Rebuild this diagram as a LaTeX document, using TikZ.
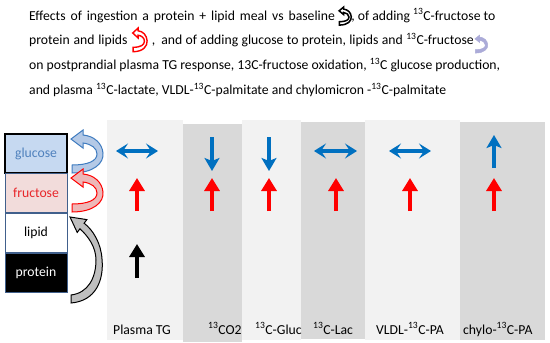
\documentclass[tikz,border=0pt]{standalone}
\usepackage{fontspec}
\setmainfont{Carlito}
\usetikzlibrary{arrows.meta}
\definecolor{lightcol}{HTML}{F2F2F2}
\definecolor{darkcol}{HTML}{D9D9D9}
\definecolor{arblue}{HTML}{0070C0}
\definecolor{arred}{HTML}{FF0000}
\definecolor{boxblue}{HTML}{C6D9F1}
\definecolor{boxpink}{HTML}{F2DCDB}
\definecolor{boxedge}{HTML}{41608C}
\definecolor{glutext}{HTML}{4F81BD}
\definecolor{frutext}{HTML}{E8262A}
\definecolor{lav}{HTML}{ABABD8}
\definecolor{cblue}{HTML}{B4C9E6}
\definecolor{cblueedge}{HTML}{3F7CC0}
\definecolor{cpink}{HTML}{EDB8B8}
\definecolor{cgray}{HTML}{BFBFBF}
\newcommand{\fsz}{\fontsize{13.7}{16}\selectfont}
\newcommand{\crvarrow}[1]{\filldraw[#1] (1,34) .. controls (23,34) and (33,24) .. (32,14) .. controls (31,4) and (23,-3) .. (12,-4) -- (12,-9) -- (0,0) -- (12,9) -- (12,4) .. controls (20,5) and (26,9) .. (26,15) .. controls (26,22) and (17,26) .. (1,26) -- cycle;}
\tikzset{
  txt/.style={inner sep=0pt, anchor=base west, font=\fsz},
  box/.style={minimum width=62pt, minimum height=39.5pt, inner sep=0pt, font=\fsz},
  redup/.style={line width=3.2pt, arred, -{Triangle[length=13pt,width=15pt]}},
  blackup/.style={line width=3.2pt, black, -{Triangle[length=13pt,width=15pt]}},
  blueone/.style={line width=3.6pt, arblue, -{Stealth[length=13pt,width=15pt,inset=3pt]}},
  bluedbl/.style={line width=3.6pt, arblue, {Stealth[length=12pt,width=15pt,inset=5pt]}-{Stealth[length=12pt,width=15pt,inset=5pt]}},
}
\begin{document}
\begin{tikzpicture}[x=1pt,y=-1pt]
\useasboundingbox[fill=white] (0,0) rectangle (550,343);
% column backgrounds
\fill[lightcol] (107,120) rectangle (183,340);
\fill[darkcol] (183,124) rectangle (242,342);
\fill[lightcol] (242,120) rectangle (301,340);
\fill[darkcol] (301,122) rectangle (365,339);
\fill[lightcol] (365,120) rectangle (460,340);
\fill[darkcol] (460,122) rectangle (545,340);
% title
\node[txt] (l1a) at (29,20) {\spaceskip=4.9pt Effects of ingestion a protein + lipid meal vs baseline};
\begin{scope}[shift={(l1a.base east)}]
  \crvarrow{fill=white, draw=black, line width=1.5pt, shift={(4,-9.2)}, xscale=0.38, yscale=0.42}
\end{scope}
\node[txt] (l1b) at ([xshift=16pt]l1a.base east) {, of adding \textsuperscript{13}C-fructose to};
\node[txt] (l2a) at (29,44.3) {\spaceskip=3.8pt protein and lipids};
\begin{scope}[shift={(l2a.base east)}]
  \crvarrow{fill=white, draw=arred, line width=1.4pt, shift={(5,-11.3)}, xscale=0.45, yscale=0.55}
\end{scope}
\node[txt] (l2b) at ([xshift=24pt]l2a.base east) {\spaceskip=3.4pt ,\hspace{6pt}and of adding glucose to protein, lipids and \textsuperscript{13}C-fructose};
\begin{scope}[shift={(l2b.base east)}]
  \crvarrow{fill=lav, draw=lav, line width=0.5pt, shift={(1,-5.5)}, xscale=0.4, yscale=0.42}
\end{scope}
\node[txt] (l3) at (29,69.3) {on postprandial plasma TG response, 13C-fructose oxidation, \textsuperscript{13}C glucose production,};
\node[txt] (l4) at (29,94.3) {and plasma \textsuperscript{13}C-lactate, VLDL-\textsuperscript{13}C-palmitate and chylomicron -\textsuperscript{13}C-palmitate};
% substrate boxes
\node[box, fill=boxblue, draw=black, line width=1.8pt, text=glutext] (glu) at (36,153.5) {glucose};
\node[box, fill=boxpink, draw=boxedge, line width=1pt, text=frutext] (fru) at (36,193) {fructose};
\node[box, fill=white, draw=boxedge, line width=1pt, text=black] (lip) at (36,233) {lipid};
\node[box, fill=black, draw=boxedge, line width=1pt, text=white] (pro) at (36,273) {protein};
% curved arrows
\crvarrow{fill=cblue, draw=cblueedge, line width=1pt, shift={(71,139)}}
\crvarrow{fill=cpink, draw=arred, line width=1pt, shift={(71,178)}}
\filldraw[fill=cgray, draw=black, line width=1pt] (71,303) .. controls (96,301) and (104,280) .. (102,259) .. controls (101,243) and (93,230) .. (84.1,223.2) -- (86.8,219.6) -- (70,217) -- (77.2,232.4) -- (79.9,228.8) .. controls (88,236) and (96,247) .. (96,260) .. controls (96,278) and (88,293) .. (71,295) -- cycle;
% effect arrows
\draw[bluedbl] (116,151) -- (158,151);
\draw[blueone] (212,137) -- (212,171);
\draw[blueone] (269,137) -- (269,171);
\draw[bluedbl] (314,151) -- (357,151);
\draw[bluedbl] (389,151) -- (431,151);
\draw[blueone] (494,168) -- (494,135);
\foreach \xx in {137,212,269,336,410,494} \draw[redup] (\xx,211) -- (\xx,178);
\draw[blackup] (137,278) -- (137,244);
% column labels
\node[txt] (c1) at (113,334) {Plasma TG};
\node[txt] (c2) at (208,334) {\textsuperscript{13}CO2};
\node[txt] (c3) at (255,334) {\textsuperscript{13}C-Gluc};
\node[txt] (c4) at (313,334) {\textsuperscript{13}C-Lac};
\node[txt] (c5) at (376,334) {VLDL-\textsuperscript{13}C-PA};
\node[txt] (c6) at (463,334) {chylo-\textsuperscript{13}C-PA};
\end{tikzpicture}
\end{document}
